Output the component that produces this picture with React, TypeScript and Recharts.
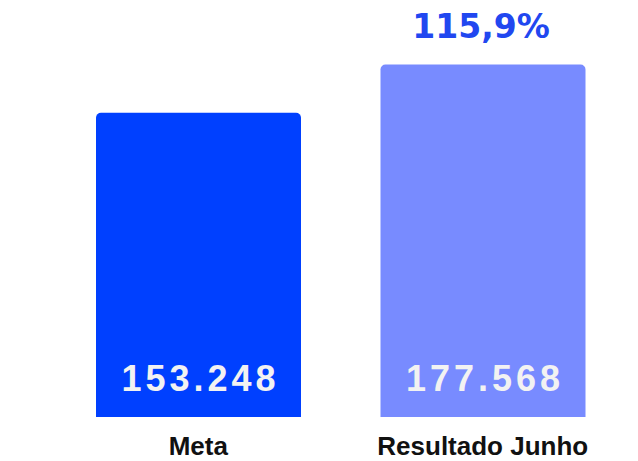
import { BarChart, Bar, XAxis, YAxis, LabelList, Cell } from "recharts";

const categories = ["Meta", "Resultado Junho"];
const values = [153248, 177568];
const valueLabels = ["153.248", "177.568"];
const pctLabels = ["", "115,9%"];
const barColors = ["#0040ff", "#788bff"];

const data = categories.map((name, i) => ({
  name,
  value: values[i],
  label: valueLabels[i],
  pct: pctLabels[i],
}));

const CategoryTick = (props: any) => {
  const { x, y, payload } = props;
  return (
    <text
      x={x}
      y={y + 30}
      textAnchor="middle"
      fontFamily="'Liberation Sans', Arial, sans-serif"
      fontWeight="bold"
      fontSize={26}
      fill="#111111"
    >
      {payload.value}
    </text>
  );
};

const ValueLabel = (props: any) => {
  const { x, y, width, height, value } = props;
  return (
    <text
      x={x + width / 2 + 2}
      y={y + height - 26}
      textAnchor="middle"
      fontFamily="'Liberation Sans', Arial, sans-serif"
      fontWeight="bold"
      fontSize={36}
      letterSpacing={4}
      fill="#f2f2f2"
    >
      {value}
    </text>
  );
};

const PctLabel = (props: any) => {
  const { x, y, width, value } = props;
  if (!value) return null;
  return (
    <text
      x={x + width / 2 - 2}
      y={y - 27}
      textAnchor="middle"
      fontFamily="'DejaVu Sans', sans-serif"
      fontWeight="bold"
      fontSize={33}
      fill="#2147f0"
    >
      {value}
    </text>
  );
};

export default function App() {
  return (
    <div style={{ position: "absolute", left: 0, top: 0, width: 638, height: 461, background: "#ffffff" }}>
      <BarChart width={638} height={461} data={data} margin={{ top: 20, right: 13, bottom: 0, left: 56 }}>
        <XAxis dataKey="name" height={44} axisLine={false} tickLine={false} tick={<CategoryTick />} interval={0} />
        <YAxis hide domain={[0, 200000]} />
        <Bar dataKey="value" barSize={205} radius={[5, 5, 0, 0]} isAnimationActive={false}>
          {data.map((d, i) => (
            <Cell key={d.name} fill={barColors[i]} />
          ))}
          <LabelList dataKey="label" content={<ValueLabel />} />
          <LabelList dataKey="pct" content={<PctLabel />} />
        </Bar>
      </BarChart>
    </div>
  );
}
